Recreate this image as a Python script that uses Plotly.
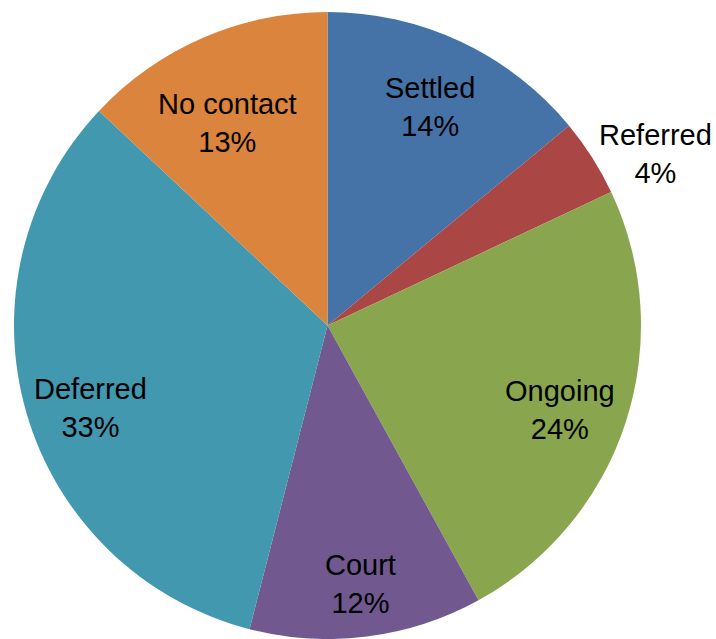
import math
import plotly.graph_objects as go

labels = ["Settled", "Referred", "Ongoing", "Court", "Deferred", "No contact"]
values = [14, 4, 24, 12, 33, 13]
colors = ["#4572A7", "#AA4643", "#89A54E", "#71588F", "#4198AF", "#DB843D"]
# label placement style: fraction of radius along slice bisector, angle nudge (deg), anchor
label_radius = [0.77, 1.02, 0.79, 0.83, 0.80, 0.72]
label_nudge = [0, 0, 2, 0, -3, -3]
label_anchor = ["center", "left", "center", "center", "center", "center"]

W, H = 716, 639
cx, r = 327.5, 313.5
cy = H - r  # pixel y of centre
FONT = dict(family="Liberation Sans", size=29, color="black")

fig = go.Figure(go.Pie(
    labels=labels, values=values, sort=False, direction="clockwise", rotation=0,
    marker=dict(colors=colors, line=dict(width=0)),
    textinfo="none",
    domain=dict(x=[(cx - r) / W, (cx + r) / W], y=[0, 1 - (cy - r) / H]),
    showlegend=False,
    hoverinfo="label+percent",
))

total = sum(values)
cum = 0
for lab, v, rf, nd, anc in zip(labels, values, label_radius, label_nudge, label_anchor):
    mid = (cum + v / 2) / total * 2 * math.pi + math.radians(nd)
    cum += v
    px = cx + rf * r * math.sin(mid)
    py = cy - rf * r * math.cos(mid)
    fig.add_annotation(
        x=px / W, y=1 - py / H, xref="paper", yref="paper",
        text=f"{lab}<br>{round(v / total * 100)}%",
        showarrow=False, xanchor=anc, yanchor="middle",
        font=FONT, align="center",
    )

fig.update_layout(width=W, height=H, margin=dict(l=0, r=0, t=0, b=0),
                  paper_bgcolor="white", plot_bgcolor="white")
fig.write_html("out.html")
